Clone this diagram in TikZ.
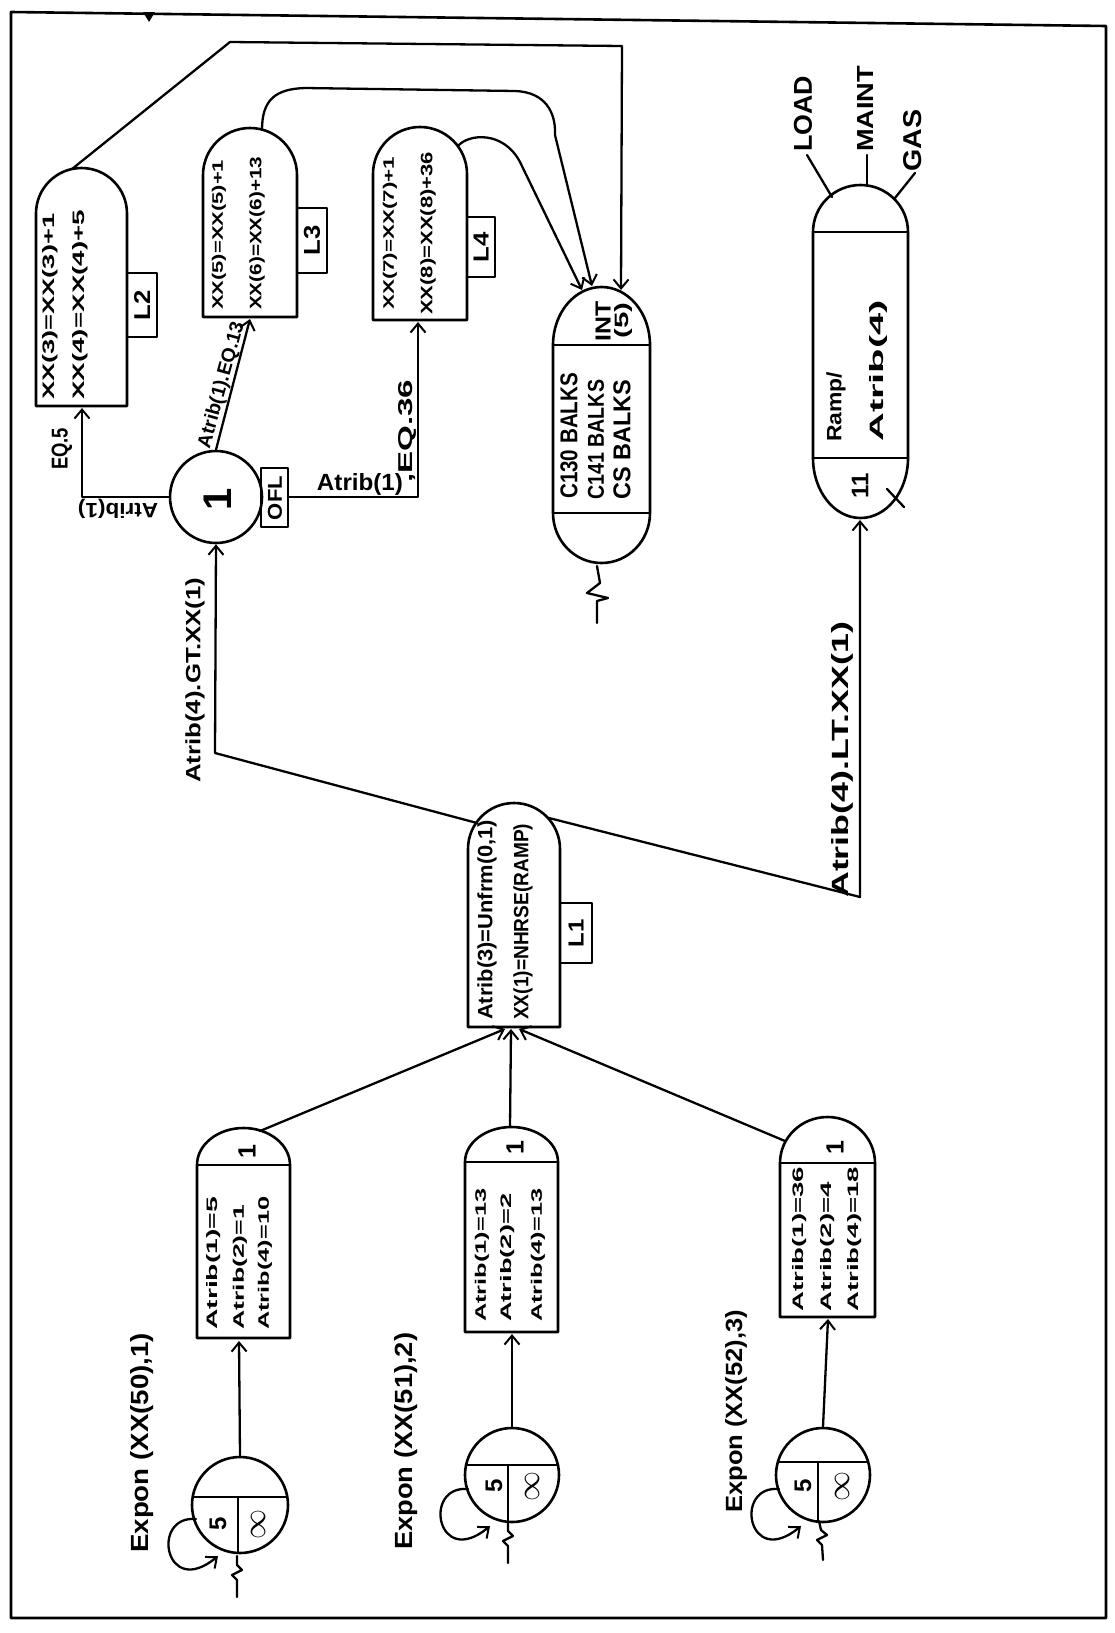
\documentclass[tikz,border=0pt]{standalone}
\usepackage{fontspec}
\setmainfont{Liberation Sans}
\usepackage{graphicx}
\usetikzlibrary{arrows.meta}
\newcommand{\RB}[3]{\resizebox{#1pt}{#2pt}{\bfseries #3}}
\tikzset{
 ln/.style={line width=2.3pt,line join=round,line cap=round},
 nd/.style={line width=2.6pt,line join=round},
 arr/.style={ln,-{Straight Barb[length=9pt,width=15pt,line width=2pt]}},
 tx/.style={rotate=90,inner sep=0pt,anchor=west},
 tc/.style={rotate=90,inner sep=0pt,anchor=center},
 big/.style={rotate=90,inner sep=0pt,font=\bfseries\fontsize{#1}{#1}\selectfont},
 circ/.style={circle,draw,nd,inner sep=0pt,minimum size=#1},
}
\begin{document}
\begin{tikzpicture}[x=1pt,y=1pt]
\useasboundingbox (0,0) rectangle (1114,-1633);
\fill[white] (0,0) rectangle (1114,-1633);
% frame
\draw[nd] (11,-12) -- (1106,-26) -- (1106,-1618) -- (11,-1618) -- cycle;
\fill (143,-12) -- (155,-12) -- (149,-22) -- cycle;

% ---------- L2 ----------
\draw[nd] (36,-406) -- (36,-213.5) arc[start angle=180,end angle=0,radius=45.5] -- (127,-406) -- cycle;
\draw[nd] (127,-273) -- (157,-273) -- (157,-337) -- (127,-337);
\node[tc] (L2lab) at (142,-305) {\RB{30}{16}{L2}};
\node[tx] (L2a) at (50,-400) {\RB{186}{12}{XX(3)=XX(3)+1}};
\node[tx] (L2b) at (80,-400) {\RB{190}{12}{XX(4)=XX(4)+5}};
\coordinate (L2top) at (72,-169);
\coordinate (L2bot) at (82,-408);

% ---------- L3 ----------
\draw[nd] (203,-317) -- (203,-175) arc[start angle=180,end angle=0,radius=47] -- (297,-317) -- cycle;
\draw[nd] (297,-208) -- (327,-208) -- (327,-273) -- (297,-273);
\node[tc] (L3lab) at (312,-240) {\RB{30}{16}{L3}};
\node[tx] (L3a) at (219,-310) {\RB{150}{11}{XX(5)=XX(5)+1}};
\node[tx] (L3b) at (257,-310) {\RB{153}{12}{XX(6)=XX(6)+13}};
\coordinate (L3top) at (262,-130);
\coordinate (L3bot) at (250,-319);

% ---------- L4 ----------
\draw[nd] (373,-320) -- (373,-174) arc[start angle=180,end angle=0,radius=47] -- (467,-320) -- cycle;
\draw[nd] (467,-217) -- (495,-217) -- (495,-277) -- (467,-277);
\node[tc] (L4lab) at (481,-247) {\RB{30}{15}{L4}};
\node[tx] (L4a) at (390,-310) {\RB{153}{11}{XX(7)=XX(7)+1}};
\node[tx] (L4b) at (428,-315) {\RB{163}{12}{XX(8)=XX(8)+36}};
\coordinate (L4top) at (458,-146);
\coordinate (L4bot) at (418,-322);

% ---------- circle 1 ----------
\node[circ=92pt] (one) at (216,-497) {};
\node[big=40] (onet) at (218,-499) {1};
\draw[nd] (261,-468) rectangle (288,-527);
\node[tc] (ofl) at (275,-498) {\RB{44}{14}{OFL}};
\coordinate (oflr) at (288,-497);

\draw[arr] (one.west) -| (L2bot);
\draw[arr] (one.north) -- (L3bot);
\draw[arr] (oflr) -| (L4bot);
\node[inner sep=0pt,rotate=74.6] (lab13) at (222,-385) {\RB{130}{14}{Atrib(1).EQ.13}};
\node[inner sep=0pt] (lab36a) at (360,-484) {\RB{86}{17}{Atrib(1)}};
\node[tx] (lab36b) at (407,-483) {\RB{103}{14}{,EQ.36}};
\node[tx] (lab5b) at (62,-470) {\RB{42}{16}{EQ.5}};
\node[inner sep=0pt,rotate=180] (lab5a) at (118,-509) {\RB{80}{15}{Atrib(1)}};

% ---------- queue ----------
\draw[nd] (553,-345) -- (553,-513) arc[start angle=180,end angle=360,x radius=48.5,y radius=50] -- (650,-345) arc[start angle=0,end angle=180,x radius=48.5,y radius=58] -- cycle;
\draw[nd] (553,-345) -- (650,-345);
\draw[nd] (553,-513) -- (650,-513);
\node[tx] (qi) at (603,-342) {\RB{40}{15}{INT}};
\node[tx] (q5) at (623,-339) {\RB{36}{14}{(5)}};
\node[tx] (qa) at (569,-499) {\RB{126}{17}{C130 BALKS}};
\node[tx] (qb) at (596,-500) {\RB{120}{16}{C141 BALKS}};
\node[tx] (qc) at (622,-500) {\RB{120}{17}{CS BALKS}};
\coordinate (q1) at (582,-290);
\coordinate (q2) at (592,-286);
\coordinate (q3) at (621,-290);
\coordinate (qbot) at (597,-566);
\draw[ln] (qbot) -- (600,-583) -- (587,-593) -- (608,-598) -- (597,-601) -- (597,-623);

% connections into queue
\draw[arr] (L2top) -- (230,-42) -- (622,-46) -- (q3);
\draw[arr] (L3top) .. controls (262,-100) and (275,-89) .. (305,-88) -- (515,-91) .. controls (545,-92) and (556,-112) .. (555,-135) -- (q2);
\draw[arr] (L4top) .. controls (468,-134) and (503,-130) .. (520,-162) -- (q1);

% ---------- Ramp node ----------
\draw[nd] (813,-232) -- (813,-458) arc[start angle=180,end angle=360,x radius=47.5,y radius=60] -- (908,-458) -- (908,-232) arc[start angle=0,end angle=180,x radius=47.5,y radius=47] -- cycle;
\draw[nd] (813,-232) -- (908,-232);
\draw[nd] (813,-458) -- (908,-458);
\node[tx] (rp1) at (836,-442) {\RB{70}{15}{Ramp/}};
\node[tx] (rp2) at (878,-442) {\RB{142}{14}{Atrib(4)}};
\node[big=24] (r11) at (860,-486) {11};
\draw[ln] (887,-489) -- (904,-507);
\coordinate (rbot) at (860,-520);
\draw[ln] (807,-155) -- (832,-197);
\draw[ln] (867,-155) -- (867,-186);
\draw[ln] (895,-198) -- (915,-173);
\node[tx] (load) at (803,-152) {\RB{76}{18}{LOAD}};
\node[tx] (maint) at (865,-152) {\RB{86}{16}{MAINT}};
\node[tx] (gas) at (913,-172) {\RB{62}{18}{GAS}};

% ---------- L1 ----------
\draw[nd] (468,-1027) -- (468,-849) arc[start angle=180,end angle=0,radius=46] -- (560,-1027) -- cycle;
\draw[nd] (560,-903) -- (592,-903) -- (592,-963) -- (560,-963);
\node[tc] (L1lab) at (576,-933) {\RB{28}{15}{L1}};
\node[tx] (L1a) at (487,-1020) {\RB{200}{15}{Atrib(3)=Unfrm(0,1)}};
\node[tx] (L1b) at (523,-1020) {\RB{196}{15}{XX(1)=NHRSE(RAMP)}};
\coordinate (L1tl) at (477,-823);
\coordinate (L1tr) at (549,-818);
\coordinate (L1b1) at (505,-1029);
\coordinate (L1b2) at (511,-1029);
\coordinate (L1b3) at (519,-1029);

\draw[arr] (L1tl) -- (215,-753) -- (one.south);
\node[tx] (gt) at (195,-783) {\RB{205}{15}{Atrib(4).GT.XX(1)}};
\draw[arr] (L1tr) -- (860,-897) -- (rbot);
\node[tx] (lt) at (842,-898) {\RB{276}{17}{Atrib(4).LT.XX(1)}};

% ---------- assign nodes ----------
\draw[nd] (197,-1338) -- (197,-1165) arc[start angle=180,end angle=0,x radius=46.5,y radius=37] -- (290,-1338) -- cycle;
\draw[nd] (197,-1165) -- (290,-1165);
\node[big=25] (n1one) at (247,-1152) {1};
\node[tx] (n1a) at (214,-1330) {\RB{133}{11}{Atrib(1)=5}};
\node[tx] (n1b) at (240,-1330) {\RB{125}{11}{Atrib(2)=1}};
\node[tx] (n1c) at (265,-1330) {\RB{133}{11}{Atrib(4)=10}};

\draw[nd] (465,-1332) -- (465,-1162) arc[start angle=180,end angle=0,x radius=46.5,y radius=35] -- (558,-1332) -- cycle;
\draw[nd] (465,-1162) -- (558,-1162);
\node[big=25] (n2one) at (515,-1148) {1};
\node[tx] (n2a) at (482,-1322) {\RB{133}{11}{Atrib(1)=13}};
\node[tx] (n2b) at (508,-1322) {\RB{128}{11}{Atrib(2)=2}};
\node[tx] (n2c) at (538,-1322) {\RB{133}{11}{Atrib(4)=13}};

\draw[nd] (780,-1317) -- (780,-1163) arc[start angle=180,end angle=0,x radius=47.5,y radius=46] -- (875,-1317) -- cycle;
\draw[nd] (780,-1163) -- (875,-1163);
\node[big=25] (n3one) at (835,-1148) {1};
\node[tx] (n3a) at (800,-1312) {\RB{145}{11}{Atrib(1)=36}};
\node[tx] (n3b) at (828,-1312) {\RB{130}{11}{Atrib(2)=4}};
\node[tx] (n3c) at (855,-1312) {\RB{145}{11}{Atrib(4)=18}};

\draw[arr] (260,-1131) -- (L1b1);
\draw[arr] (510,-1127) -- (L1b2);
\draw[arr] (785,-1141) -- (L1b3);

% ---------- create circles ----------
\node[circ=96pt] (e1) at (240,-1505) {};
\begin{scope}
 \clip (240,-1505) circle[radius=48];
 \draw[nd] (180,-1497) -- (300,-1497);
 \draw[nd] (238,-1497) -- (238,-1560);
\end{scope}
\node[big=24] (e1a) at (218,-1524) {5};
\node[tc] (e1b) at (258,-1524) {\RB{30}{14}{$\infty$}};
\draw[arr] (e1.north) -- (239,-1341);
\draw[arr] (196,-1519) .. controls (150,-1515) and (165,-1600) .. (218,-1556);
\draw[ln] (237,-1597) -- (237,-1580) -- (232,-1575) -- (242,-1570) -- (237,-1565) -- (237,-1556);
\node[tx] (x1) at (142,-1553) {\RB{220}{18}{Expon (XX(50),1)}};

\node[circ=94pt] (e2) at (512,-1475) {};
\begin{scope}
 \clip (512,-1475) circle[radius=47];
 \draw[nd] (450,-1465) -- (570,-1465);
 \draw[nd] (508,-1465) -- (508,-1530);
\end{scope}
\node[big=24] (e2a) at (494,-1486) {5};
\node[tc] (e2b) at (532,-1486) {\RB{30}{14}{$\infty$}};
\draw[arr] (e2.north) -- (512,-1334);
\draw[arr] (468,-1489) .. controls (422,-1485) and (437,-1570) .. (490,-1526);
\draw[ln] (508,-1563) -- (508,-1546) -- (503,-1541) -- (513,-1536) -- (508,-1531) -- (508,-1522);
\node[tx] (x2) at (406,-1550) {\RB{217}{18}{Expon (XX(51),2)}};

\node[circ=94pt] (e3) at (823,-1475) {};
\begin{scope}
 \clip (823,-1475) circle[radius=47];
 \draw[nd] (760,-1462) -- (890,-1462);
 \draw[nd] (818,-1462) -- (818,-1530);
\end{scope}
\node[big=24] (e3a) at (803,-1486) {5};
\node[tc] (e3b) at (842,-1486) {\RB{30}{14}{$\infty$}};
\draw[arr] (e3.north) -- (828,-1319);
\draw[arr] (779,-1489) .. controls (733,-1485) and (748,-1570) .. (801,-1526);
\draw[ln] (823,-1560) -- (822,-1545) -- (817,-1540) -- (827,-1535) -- (821,-1530) -- (819,-1521);
\node[tx] (x3) at (736,-1513) {\RB{203}{17}{Expon (XX(52),3)}};
\end{tikzpicture}
\end{document}
